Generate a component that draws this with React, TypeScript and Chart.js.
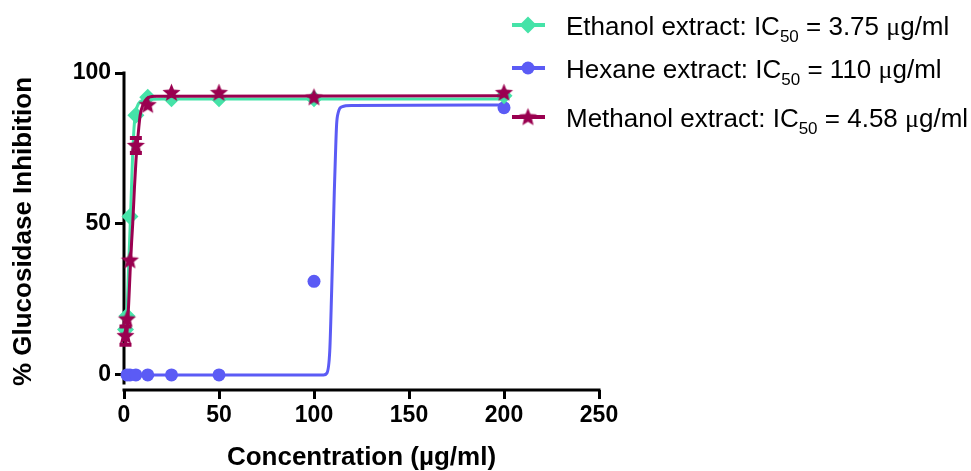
import React, { useEffect, useRef } from "react";
import { Chart, registerables } from "chart.js";
Chart.register(...registerables);

// ---------- data ----------
const concentrations = [0.78, 1.5625, 3.125, 6.25, 12.5, 25, 50, 100, 200];
const ethanolValues = [15, 19.5, 52.5, 86, 92, 91.5, 91.5, 91.5, 92.5];
const methanolValues = [13, 18.5, 38, 76, 89.5, 93.5, 93.5, 92, 93.5];
const methanolErrors = [3, 0, 0, 2.5, 0, 0, 0, 0, 0];
const hexaneConcentrations = [1.5625, 3.125, 6.25, 12.5, 25, 50, 100, 200];
const hexaneValues = [0, 0, 0, 0, 0, 0, 31, 88.5];

// fitted curves
const ethanolFitX = [0.78, 1.5, 2.5, 3.4, 4, 4.5, 5.3, 6, 7, 8.5, 12, 20, 200];
const ethanolFitY = [13, 19, 37, 52, 63, 72, 82, 86.5, 89, 90.5, 91.2, 91.4, 91.4];
const methanolFitX = [0.78, 1.56, 2.5, 3.2, 4, 4.58, 5.5, 6.3, 7.5, 8.5, 10, 12, 16, 200];
const methanolFitY = [10, 14, 24, 34, 44, 50, 62, 71, 80, 86, 89.5, 91.5, 92.3, 92.5];
const hexaneFitX = [1.5625, 105, 106.8, 108.3, 109.3, 110, 110.7, 111.3, 111.9, 112.8, 114.6, 120, 200];
const hexaneFitY = [0, 0, 0.6, 8, 28, 44, 61, 73, 83, 87, 88.8, 89.2, 89.4];

const xTicks = [0, 50, 100, 150, 200, 250];
const yTicks = [0, 50, 100];
const legendNames = ["Ethanol extract", "Hexane extract", "Methanol extract"];
const ic50Values = ["3.75", "110", "4.58"];
const xTitle = "Concentration (µg/ml)";
const yTitle = "% Glucosidase Inhibition";

// ---------- styles ----------
const GREEN = "#45E3A8";
const BLUE = "#5B5BF5";
const MAROON = "#9A0050";
const FONT = "'Liberation Sans', Arial, sans-serif";

function makeStar(r: number, inner: number, color: string) {
  const c = document.createElement("canvas");
  const s = Math.ceil(r * 2 + 2);
  c.width = s;
  c.height = s;
  const g = c.getContext("2d")!;
  g.translate(s / 2, s / 2 + 0.5);
  g.beginPath();
  for (let i = 0; i < 10; i++) {
    const rad = i % 2 === 0 ? r : inner;
    const a = -Math.PI / 2 + (i * Math.PI) / 5;
    g.lineTo(rad * Math.cos(a), rad * Math.sin(a));
  }
  g.closePath();
  g.fillStyle = color;
  g.fill();
  return c;
}

const pts = (xs: number[], ys: number[]) => xs.map((x, i) => ({ x, y: ys[i] }));

export default function App() {
  const ref = useRef<HTMLCanvasElement | null>(null);

  useEffect(() => {
    if (!ref.current) return;
    const star = makeStar(9.5, 4.2, MAROON);

    const axesPlugin = {
      id: "axesLines",
      beforeDatasetsDraw(chart: any) {
        const { ctx, scales, chartArea } = chart;
        const x = scales.x;
        const y = scales.y;
        ctx.save();
        ctx.strokeStyle = "#000";
        ctx.lineWidth = 3;
        const x0 = x.getPixelForValue(0);
        ctx.beginPath();
        ctx.moveTo(x0, y.getPixelForValue(100) - 1.5);
        ctx.lineTo(x0, y.getPixelForValue(-3.2));
        ctx.stroke();
        ctx.beginPath();
        ctx.moveTo(x0 - 1.5, chartArea.bottom);
        ctx.lineTo(x.getPixelForValue(250) + 1.5, chartArea.bottom);
        ctx.stroke();
        ctx.restore();
      },
    };

    const errorBarPlugin = {
      id: "errorBars",
      afterDatasetsDraw(chart: any) {
        const { ctx, scales } = chart;
        const x = scales.x;
        const y = scales.y;
        ctx.save();
        ctx.strokeStyle = MAROON;
        concentrations.forEach((c, i) => {
          const e = methanolErrors[i];
          if (!e) return;
          const px = x.getPixelForValue(c);
          const top = y.getPixelForValue(methanolValues[i] + e);
          const bot = y.getPixelForValue(methanolValues[i] - e);
          ctx.lineWidth = 2.5;
          ctx.beginPath();
          ctx.moveTo(px, top);
          ctx.lineTo(px, bot);
          ctx.stroke();
          ctx.lineWidth = 4;
          ctx.beginPath();
          ctx.moveTo(px - 6, top);
          ctx.lineTo(px + 6, top);
          ctx.moveTo(px - 6, bot);
          ctx.lineTo(px + 6, bot);
          ctx.stroke();
        });
        ctx.restore();
      },
    };

    const legendPlugin = {
      id: "customLegend",
      afterDraw(chart: any) {
        const { ctx } = chart;
        const rows = [25, 68, 117];
        const colors = [GREEN, BLUE, MAROON];
        ctx.save();
        rows.forEach((ry, i) => {
          const col = colors[i];
          ctx.strokeStyle = col;
          ctx.lineWidth = 4;
          ctx.beginPath();
          ctx.moveTo(512, ry);
          ctx.lineTo(545, ry);
          ctx.stroke();
          ctx.fillStyle = col;
          if (i === 0) {
            ctx.beginPath();
            ctx.moveTo(528 - 8.5, ry);
            ctx.lineTo(528, ry - 8.5);
            ctx.lineTo(528 + 8.5, ry);
            ctx.lineTo(528, ry + 8.5);
            ctx.closePath();
            ctx.fill();
          } else if (i === 1) {
            ctx.beginPath();
            ctx.arc(528, ry, 6.5, 0, Math.PI * 2);
            ctx.fill();
          } else {
            ctx.drawImage(star, 528 - star.width / 2, ry - star.height / 2);
          }
          // text
          ctx.fillStyle = "#000";
          ctx.textBaseline = "alphabetic";
          ctx.textAlign = "left";
          const base = ry + 9.5;
          let tx = 566;
          const main = `26px ${FONT}`;
          ctx.font = main;
          const t1 = `${legendNames[i]}: IC`;
          ctx.fillText(t1, tx, base);
          tx += ctx.measureText(t1).width;
          ctx.font = `17px ${FONT}`;
          ctx.fillText("50", tx, base + 7);
          tx += ctx.measureText("50").width;
          ctx.font = main;
          const t2 = ` = ${ic50Values[i]} `;
          ctx.fillText(t2, tx, base);
          tx += ctx.measureText(t2).width;
          ctx.font = `26px 'Liberation Serif', 'Times New Roman', serif`;
          ctx.fillText("μ", tx, base);
          tx += ctx.measureText("μ").width;
          ctx.font = main;
          ctx.fillText("g/ml", tx, base);
        });
        ctx.restore();
      },
    };

    const chart = new Chart(ref.current, {
      type: "scatter",
      data: {
        datasets: [
          {
            label: "Methanol extract",
            data: pts(concentrations, methanolValues),
            showLine: false,
            pointStyle: star as any,
            pointRadius: 9,
            backgroundColor: MAROON,
            borderColor: MAROON,
            order: 0,
            clip: false,
          } as any,
          {
            label: "Methanol fit",
            data: pts(methanolFitX, methanolFitY),
            showLine: true,
            pointRadius: 0,
            borderColor: MAROON,
            borderWidth: 3,
            cubicInterpolationMode: "monotone",
            order: 1,
            clip: false,
          },
          {
            label: "Ethanol extract",
            data: pts(concentrations, ethanolValues),
            showLine: false,
            pointStyle: "rectRot",
            pointRadius: 8.5,
            backgroundColor: GREEN,
            borderColor: GREEN,
            borderWidth: 0,
            order: 2,
            clip: false,
          },
          {
            label: "Ethanol fit",
            data: pts(ethanolFitX, ethanolFitY),
            showLine: true,
            pointRadius: 0,
            borderColor: GREEN,
            borderWidth: 3,
            cubicInterpolationMode: "monotone",
            order: 3,
            clip: false,
          },
          {
            label: "Hexane extract",
            data: pts(hexaneConcentrations, hexaneValues),
            showLine: false,
            pointStyle: "circle",
            pointRadius: 6.5,
            backgroundColor: BLUE,
            borderColor: BLUE,
            borderWidth: 0,
            order: 4,
            clip: false,
          },
          {
            label: "Hexane fit",
            data: pts(hexaneFitX, hexaneFitY),
            showLine: true,
            pointRadius: 0,
            borderColor: BLUE,
            borderWidth: 3,
            cubicInterpolationMode: "monotone",
            order: 5,
            clip: false,
          },
        ],
      },
      options: {
        animation: false,
        responsive: true,
        maintainAspectRatio: false,
        layout: { padding: { left: 0, top: 73, right: 372, bottom: 0 } },
        plugins: { legend: { display: false }, tooltip: { enabled: false } },
        scales: {
          x: {
            type: "linear",
            min: 0,
            max: 250,
            afterBuildTicks: (s: any) => {
              s.ticks = xTicks.map((v) => ({ value: v }));
            },
            afterFit: (s: any) => {
              s.height = 81;
            },
            border: { display: false },
            grid: {
              drawOnChartArea: false,
              drawTicks: true,
              tickLength: 9,
              color: "#000",
              lineWidth: 3,
            },
            ticks: {
              color: "#000",
              padding: 3,
              maxRotation: 0,
              font: { family: FONT, size: 23, weight: "bold" },
            },
            title: {
              display: true,
              text: xTitle,
              color: "#000",
              padding: { top: 0, bottom: -2 },
              font: { family: FONT, size: 26, weight: "bold" },
            },
          },
          y: {
            type: "linear",
            min: -5,
            max: 100,
            afterBuildTicks: (s: any) => {
              s.ticks = yTicks.map((v) => ({ value: v }));
            },
            afterFit: (s: any) => {
              s.width = 124;
            },
            border: { display: false },
            grid: {
              drawOnChartArea: false,
              drawTicks: true,
              tickLength: 9,
              color: "#000",
              lineWidth: 3,
            },
            ticks: {
              color: "#000",
              padding: 4,
              font: { family: FONT, size: 23, weight: "bold" },
            },
            title: {
              display: true,
              text: yTitle,
              color: "#000",
              padding: { top: 8, bottom: 0 },
              font: { family: FONT, size: 26, weight: "bold" },
            },
          },
        },
      },
      plugins: [axesPlugin, errorBarPlugin, legendPlugin],
    });
    return () => chart.destroy();
  }, []);

  return (
    <div style={{ position: "absolute", left: 0, top: 0, width: 971, height: 471, background: "#fff" }}>
      <canvas ref={ref} />
    </div>
  );
}
